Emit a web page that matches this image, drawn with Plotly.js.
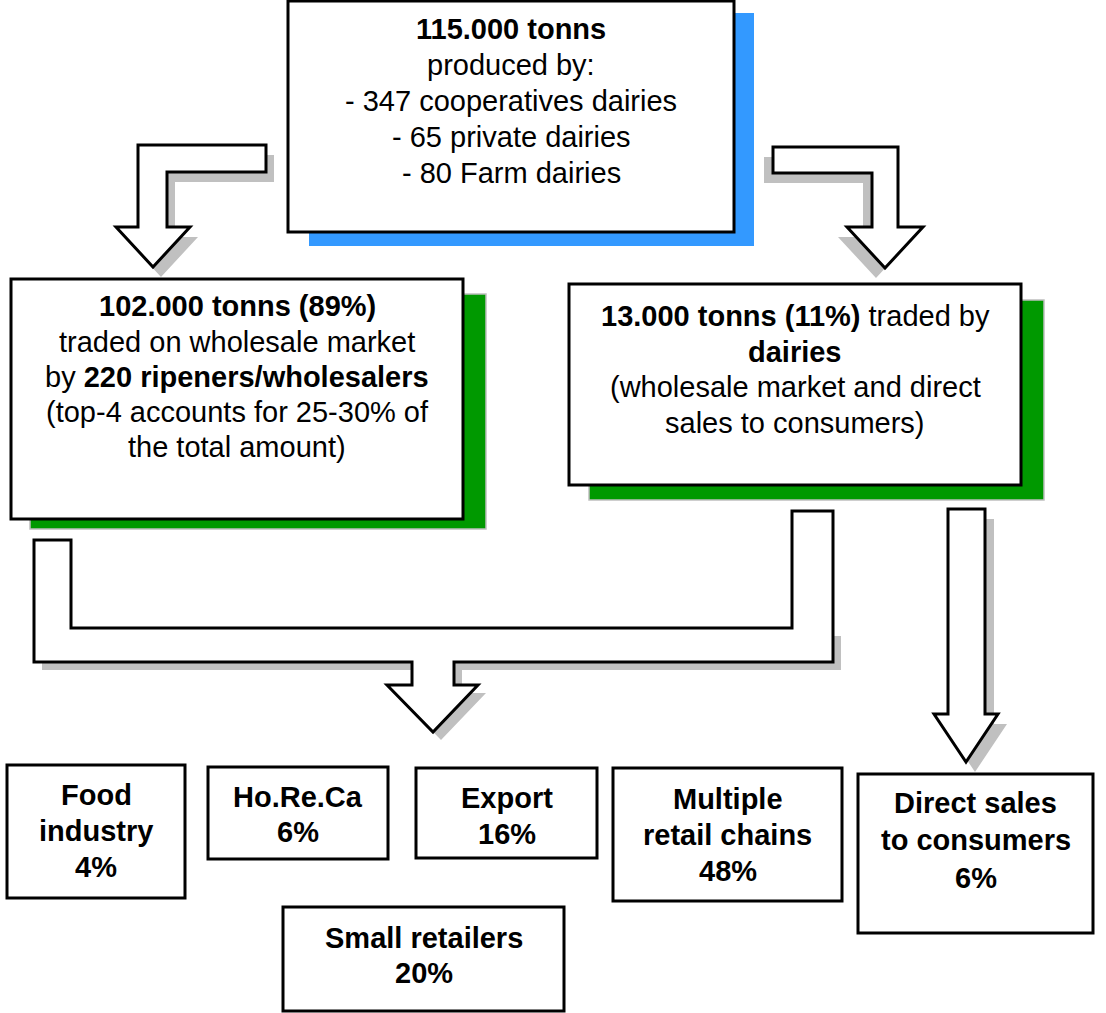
<!DOCTYPE html>
<html>
<head>
<meta charset="utf-8">
<script src="https://cdn.plot.ly/plotly-3.0.1.min.js"></script>
<style>html,body{margin:0;padding:0;background:#fff;}#chart{width:1106px;height:1013px;}</style>
</head>
<body>
<div id="chart"></div>
<script>
// ---- text content ----
const topLines = ["<b>115.000 tonns</b>", "produced by:", "- 347 cooperatives dairies", "- 65 private dairies", "- 80 Farm dairies"];
const wholesaleLines = ["<b>102.000 tonns (89%)</b>", "traded on wholesale market", "by <b>220 ripeners/wholesalers</b>", "(top-4 accounts for 25-30% of", "the total amount)"];
const dairyLines = ["<b>13.000 tonns (11%)</b> traded by", "<b>dairies</b>", "(wholesale market and direct", "sales to consumers)"];
const channelNames = [["Food", "industry"], ["Ho.Re.Ca"], ["Export"], ["Multiple", "retail chains"], ["Small retailers"], ["Direct sales", "to consumers"]];
const channelShares = [4, 6, 16, 48, 20, 6];

// ---- layout geometry (pixels) ----
const W = 1106, H = 1013;
const topBox = {x0: 288, y0: 1, x1: 734, y1: 232, sx0: 309, sy0: 13, sx1: 754, sy1: 246, cx: 511, ys: [29, 65, 101, 137, 173]};
const leftBox = {x0: 11, y0: 279, x1: 463, y1: 519, sx0: 30, sy0: 294, sx1: 486, sy1: 529, cx: 237, ys: [306, 342, 377, 412, 447]};
const rightBox = {x0: 569, y0: 284, x1: 1021, y1: 485, sx0: 589, sy0: 300, sx1: 1044, sy1: 500, cx: 795, ys: [316, 352, 387, 423]};
const channelBoxes = [
  {x0: 7, y0: 765, x1: 185, y1: 898, ys: [795, 831, 867]},
  {x0: 208, y0: 767, x1: 388, y1: 859, ys: [797, 832]},
  {x0: 416, y0: 768, x1: 597, y1: 858, ys: [798, 834]},
  {x0: 613, y0: 768, x1: 842, y1: 901, ys: [799, 835, 871]},
  {x0: 283, y0: 907, x1: 564, y1: 1011, ys: [938, 973]},
  {x0: 858, y0: 774, x1: 1093, y1: 933, ys: [803, 840, 878]}
];
const arrows = [
  {pts: [[266,145],[138,145],[138,227],[116,227],[153,267],[190,227],[167,227],[167,172],[266,172]], dx: 8, dy: 10},
  {pts: [[773,147],[898,147],[898,227],[923,227],[885,268],[847,227],[872,227],[872,173],[773,173]], dx: -9, dy: 10},
  {pts: [[948,509],[985,509],[985,714],[998,714],[966,762],[934,714],[948,714]], dx: 9, dy: 10}
];
const connector = [[34,540],[71,540],[71,628],[792,628],[792,511],[833,511],[833,662],[454,662],[454,685],[478,685],[433,732],[387,685],[412,685],[412,662],[34,662]];
const connectorShadow = [[34,628],[833,628],[833,662],[454,662],[454,685],[478,685],[433,732],[387,685],[412,685],[412,662],[34,662]];

const FONT = "'Liberation Sans', Arial, Helvetica, sans-serif";
const FS = 29;

function path(pts, dx, dy) {
  dx = dx || 0; dy = dy || 0;
  return 'M ' + pts.map(p => (p[0] + dx) + ',' + (p[1] + dy)).join(' L ') + ' Z';
}

const shapes = [];
const annotations = [];

function rect(b, fill, lineColor, lw) {
  shapes.push({type: 'rect', xref: 'x', yref: 'y', x0: b.x0, y0: b.y0, x1: b.x1, y1: b.y1,
    fillcolor: fill, line: {color: lineColor, width: lw}, layer: 'above'});
}
function lines(texts, cx, ys) {
  texts.forEach((t, i) => {
    annotations.push({xref: 'x', yref: 'y', x: cx, y: ys[i], text: t, showarrow: false,
      xanchor: 'center', yanchor: 'middle', font: {family: FONT, size: FS, color: '#000'}});
  });
}

// top box with blue shadow
shapes.push({type: 'rect', xref: 'x', yref: 'y', x0: topBox.sx0, y0: topBox.sy0, x1: topBox.sx1, y1: topBox.sy1,
  fillcolor: '#3399FF', line: {width: 0}, layer: 'above'});
rect(topBox, '#FFFFFF', '#000000', 3);
lines(topLines, topBox.cx, topBox.ys);

// arrows with gray shadows
arrows.forEach(a => {
  shapes.push({type: 'path', xref: 'x', yref: 'y', path: path(a.pts, a.dx, a.dy), fillcolor: '#C0C0C0', line: {width: 0}, layer: 'above'});
  shapes.push({type: 'path', xref: 'x', yref: 'y', path: path(a.pts), fillcolor: '#FFFFFF', line: {color: '#000', width: 3}, layer: 'above'});
});

// middle boxes with green shadows
[leftBox, rightBox].forEach(b => {
  shapes.push({type: 'rect', xref: 'x', yref: 'y', x0: b.sx0, y0: b.sy0, x1: b.sx1, y1: b.sy1,
    fillcolor: '#009900', line: {color: '#BFBFBF', width: 1.5}, layer: 'above'});
  rect(b, '#FFFFFF', '#000000', 3);
});
lines(wholesaleLines, leftBox.cx, leftBox.ys);
lines(dairyLines, rightBox.cx, rightBox.ys);

// connector
shapes.push({type: 'path', xref: 'x', yref: 'y', path: path(connectorShadow, 8, 8), fillcolor: '#C0C0C0', line: {width: 0}, layer: 'above'});
shapes.push({type: 'path', xref: 'x', yref: 'y', path: path(connector), fillcolor: '#FFFFFF', line: {color: '#000', width: 3}, layer: 'above'});

// channel boxes
channelBoxes.forEach((b, i) => {
  rect(b, '#FFFFFF', '#000000', 3);
  const txt = channelNames[i].map(s => '<b>' + s + '</b>').concat(['<b>' + channelShares[i] + '%</b>']);
  lines(txt, (b.x0 + b.x1) / 2, b.ys);
});

const layout = {
  width: W, height: H,
  margin: {l: 0, r: 0, t: 0, b: 0, pad: 0},
  paper_bgcolor: '#FFFFFF', plot_bgcolor: '#FFFFFF',
  xaxis: {range: [0, W], visible: false, fixedrange: true},
  yaxis: {range: [H, 0], visible: false, fixedrange: true},
  showlegend: false,
  shapes: shapes,
  annotations: annotations
};

Plotly.newPlot('chart', [{x: [], y: [], type: 'scatter', hoverinfo: 'skip'}], layout, {staticPlot: true, displayModeBar: false});
</script>
</body>
</html>
